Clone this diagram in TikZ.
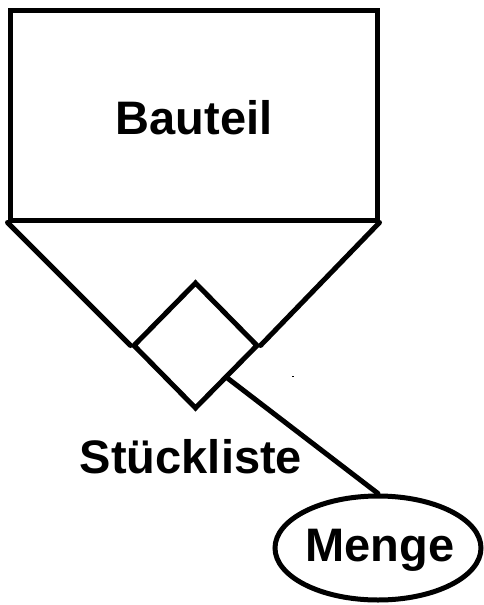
\documentclass[tikz,border=0pt]{standalone}
\usepackage{fontspec}
\setmainfont{Liberation Sans}
\usetikzlibrary{shapes.geometric,calc}
\tikzset{
  er/.style={draw=black, line width=5pt, inner sep=0pt},
  entitybox/.style={er, rectangle, minimum width=367pt, minimum height=209.5pt},
  relbox/.style={er, diamond, minimum width=125pt, minimum height=127pt},
  attrbox/.style={er, ellipse, minimum width=206pt, minimum height=104pt},
  lbl/.style={inner sep=0pt, font=\bfseries\fontsize{47}{56}\selectfont},
  conn/.style={line width=5pt, line cap=round}
}
\begin{document}
\begin{tikzpicture}[x=1pt,y=-1pt]
\useasboundingbox (0,0) rectangle (484,605);
\node[entitybox] (b) at (193.5,115.25) {};
\node[lbl] (bt) at (194,117.5) {Bauteil};
\node[relbox] (d) at (195.5,345.5) {};
\node[lbl] (sl) at (191,457) {Stückliste};
\node[attrbox] (m) at (378,548) {};
\node[lbl] (mt) at (380,550) {Menge};
\draw[conn] (b.south west) -- (d.west);
\draw[conn] (b.south east) -- (d.east);
\coordinate (dse) at ($(d.south)!0.5!(d.east)$);
\draw[conn] (dse) -- (m.north);
\fill (292,375.5) rectangle (294,377);
\end{tikzpicture}
\end{document}
